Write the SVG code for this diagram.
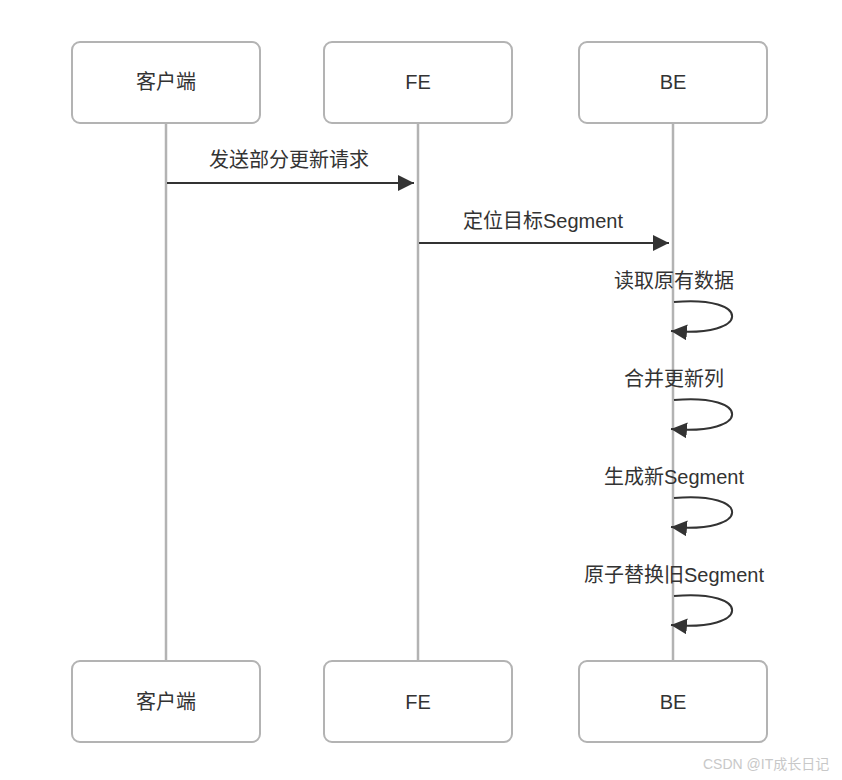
<svg xmlns="http://www.w3.org/2000/svg" width="842" height="780" viewBox="0 0 842 780">
<defs>
<style>
.box{fill:#fff;stroke:#b3b3b3;stroke-width:2}
.life{stroke:#b3b3b3;stroke-width:2.5;fill:none}
.msg{stroke:#333;stroke-width:2;fill:none}
text{font-family:"Liberation Sans","Noto Sans CJK SC",sans-serif;font-size:20px;fill:#333;text-anchor:middle}
.wm{font-size:14px;fill:#c8c8c8;text-anchor:start}
</style>
<marker id="ah" viewBox="0 0 10 10" refX="10" refY="5" markerWidth="16" markerHeight="16" markerUnits="userSpaceOnUse" orient="auto">
<path d="M0,0 L10,5 L0,10 z" fill="#333"/>
</marker>
</defs>
<rect width="842" height="780" fill="#fff"/>
<g id="lifelines">
<line class="life" x1="166" y1="123" x2="166" y2="661"/>
<line class="life" x1="418" y1="123" x2="418" y2="661"/>
<line class="life" x1="673" y1="123" x2="673" y2="661"/>
</g>
<g id="client-top"><rect class="box" x="72" y="42" width="188" height="81" rx="8"/><text x="166" y="89">客户端</text></g>
<g id="fe-top"><rect class="box" x="324" y="42" width="188" height="81" rx="8"/><text x="418" y="89">FE</text></g>
<g id="be-top"><rect class="box" x="579" y="42" width="188" height="81" rx="8"/><text x="673" y="89">BE</text></g>
<g id="client-bottom"><rect class="box" x="72" y="661" width="188" height="81" rx="8"/><text x="166" y="709">客户端</text></g>
<g id="fe-bottom"><rect class="box" x="324" y="661" width="188" height="81" rx="8"/><text x="418" y="709">FE</text></g>
<g id="be-bottom"><rect class="box" x="579" y="661" width="188" height="81" rx="8"/><text x="673" y="709">BE</text></g>
<g id="connectors">
<line class="msg" x1="167" y1="183" x2="414" y2="183" marker-end="url(#ah)"/>
<text x="289" y="167">发送部分更新请求</text>
<line class="msg" x1="419" y1="243" x2="669" y2="243" marker-end="url(#ah)"/>
<text x="543" y="228">定位目标Segment</text>
<path class="msg" d="M674,302 C752,295 752,338 671,331" marker-end="url(#ah)"/>
<text x="674" y="288">读取原有数据</text>
<path class="msg" d="M674,400 C752,393 752,436 671,429" marker-end="url(#ah)"/>
<text x="674" y="386">合并更新列</text>
<path class="msg" d="M674,498 C752,491 752,534 671,527" marker-end="url(#ah)"/>
<text x="674" y="484">生成新Segment</text>
<path class="msg" d="M674,596 C752,589 752,632 671,625" marker-end="url(#ah)"/>
<text x="674" y="582">原子替换旧Segment</text>
</g>
<text class="wm" x="703" y="769">CSDN @IT成长日记</text>
</svg>
